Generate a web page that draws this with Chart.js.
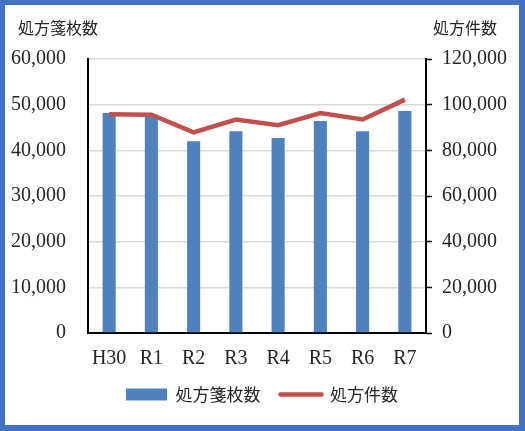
<!DOCTYPE html>
<html>
<head>
<meta charset="utf-8">
<script src="https://cdn.jsdelivr.net/npm/chart.js@4"></script>
<style>
  html, body { margin: 0; padding: 0; }
  #outer { position: absolute; left: 0; top: 0; width: 525px; height: 431px; background: #4472C4; }
  #inner { position: absolute; left: 5px; top: 5px; width: 514px; height: 420px; background: #ffffff; }
  canvas { display: block; }
</style>
</head>
<body>
<div id="outer"><div id="inner"><canvas id="c" width="514" height="420"></canvas></div></div>
<script>
const categories = ['H30', 'R1', 'R2', 'R3', 'R4', 'R5', 'R6', 'R7'];
const prescriptionSheets = [48200, 47500, 42000, 44200, 42700, 46400, 44200, 48600];
const prescriptionCases = [95800, 95600, 87900, 93500, 91000, 96300, 93500, 102200];
const leftTitle = '処方箋枚数';
const rightTitle = '処方件数';

const serif = '"Liberation Serif", "Times New Roman", serif';
const cjk = '"Noto Sans CJK JP", sans-serif';
const textColor = '#262626';

const titlesPlugin = {
  id: 'axisTitles',
  afterDraw(chart) {
    const ctx = chart.ctx;
    ctx.save();
    ctx.fillStyle = textColor;
    ctx.font = '16px ' + cjk;
    ctx.textBaseline = 'middle';
    ctx.textAlign = 'left';
    ctx.fillText(leftTitle, 13, 23);
    ctx.fillText(rightTitle, 428, 23);
    ctx.restore();
  }
};

const fmt = v => Number(v).toLocaleString('en-US');

new Chart(document.getElementById('c'), {
  data: {
    labels: categories,
    datasets: [
      {
        type: 'line',
        label: rightTitle,
        data: prescriptionCases,
        yAxisID: 'y2',
        borderColor: '#C0504D',
        backgroundColor: '#C0504D',
        borderWidth: 4.5,
        pointRadius: 0,
        tension: 0,
        order: 0
      },
      {
        type: 'bar',
        label: leftTitle,
        data: prescriptionSheets,
        yAxisID: 'y',
        backgroundColor: '#4F81BD',
        borderWidth: 0,
        categoryPercentage: 1,
        barPercentage: 0.31,
        order: 1
      }
    ]
  },
  options: {
    responsive: false,
    animation: false,
    devicePixelRatio: 1,
    layout: { padding: { top: 54, left: 0, right: 0, bottom: 12 } },
    plugins: {
      tooltip: { enabled: false },
      legend: {
        position: 'bottom',
        reverse: true,
        labels: {
          usePointStyle: true,
          pointStyleWidth: 41,
          boxHeight: 12,
          padding: 20,
          color: textColor,
          font: { family: cjk, size: 17 },
          generateLabels(chart) {
            return chart.data.datasets.map((ds, i) => ({
              text: ds.label,
              datasetIndex: i,
              fillStyle: ds.type === 'bar' ? ds.backgroundColor : 'rgba(0,0,0,0)',
              strokeStyle: ds.type === 'bar' ? 'rgba(0,0,0,0)' : ds.borderColor,
              lineWidth: ds.type === 'bar' ? 0 : 4.5,
              lineCap: 'round',
              pointStyle: ds.type === 'bar' ? 'rect' : 'line',
              fontColor: textColor,
              hidden: false
            }));
          }
        }
      }
    },
    scales: {
      x: {
        offset: true,
        grid: { display: false, drawTicks: false },
        border: { display: true, color: '#000', width: 2 },
        ticks: { color: textColor, font: { family: serif, size: 20 }, padding: 14, maxRotation: 0 },
        afterFit(s) { s.height = 33; }
      },
      y: {
        position: 'left',
        min: 0, max: 60000,
        ticks: { stepSize: 10000, color: textColor, font: { family: serif, size: 20 }, padding: 22, callback: fmt },
        grid: { color: '#d9d9d9', lineWidth: 1.5, drawTicks: false },
        border: { display: true, color: '#000', width: 2 },
        afterFit(s) { s.width = 83; }
      },
      y2: {
        position: 'right',
        min: 0, max: 120000,
        ticks: { stepSize: 20000, color: textColor, font: { family: serif, size: 20 }, padding: 10, callback: fmt },
        grid: { drawOnChartArea: false, drawTicks: true, tickLength: 6, tickColor: '#000', tickWidth: 1.5, color: '#000' },
        border: { display: true, color: '#000', width: 2 },
        afterFit(s) { s.width = 93; }
      }
    }
  },
  plugins: [titlesPlugin]
});
</script>
</body>
</html>
